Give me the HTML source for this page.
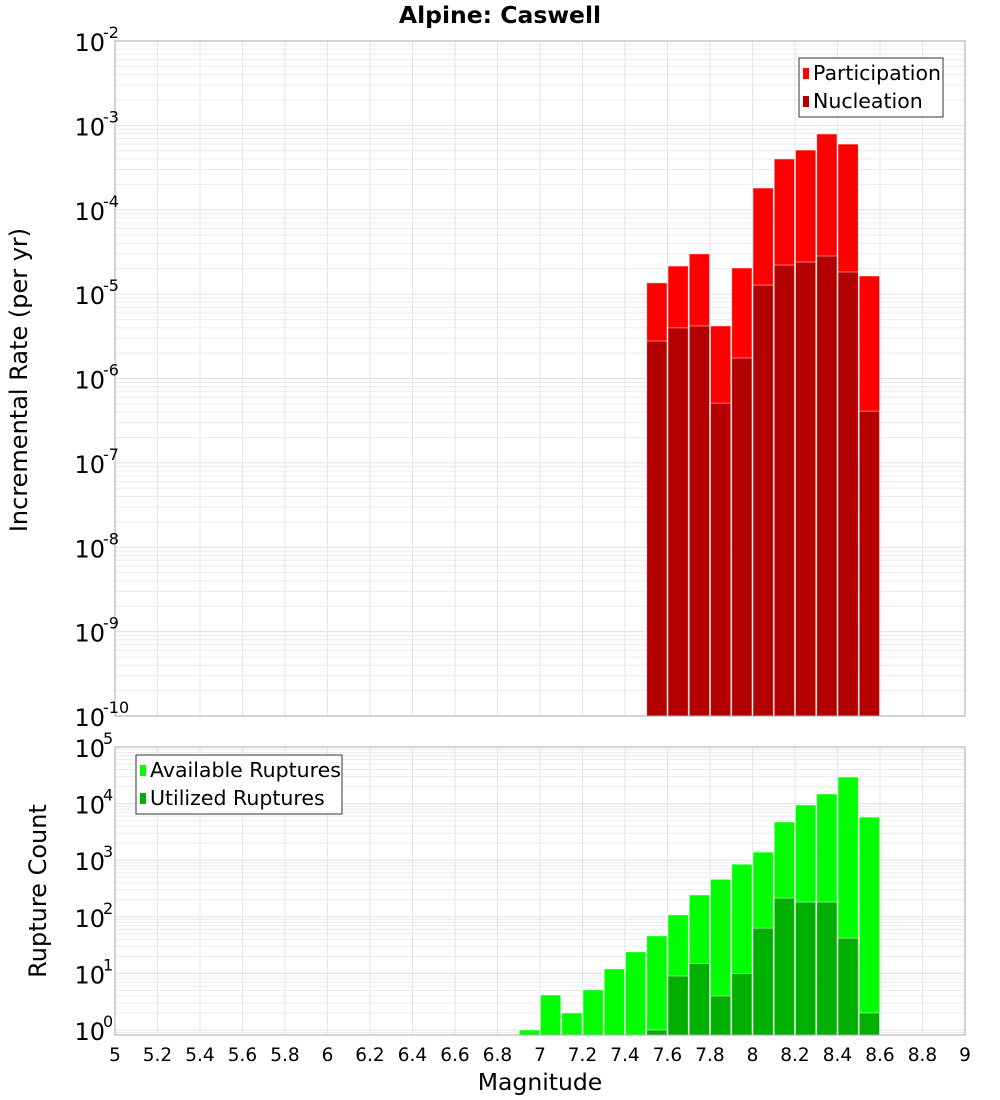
<!DOCTYPE html>
<html><head><meta charset="utf-8">
<style>
body{margin:0;background:#fff;}
svg{display:block;font-family:"DejaVu Sans","Liberation Sans",sans-serif;}
</style></head>
<body>
<svg id="chart" width="1000" height="1100" viewBox="0 0 1000 1100" xmlns="http://www.w3.org/2000/svg">
<text x="500" y="23" text-anchor="middle" font-size="23.5" font-weight="bold">Alpine: Caswell</text>
<g id="top"></g>
<g id="bot"></g>
<text x="540" y="1090" text-anchor="middle" font-size="23.5">Magnitude</text>
<text transform="translate(27,380) rotate(-90)" text-anchor="middle" font-size="24">Incremental Rate (per yr)</text>
<text transform="translate(46,891) rotate(-90)" text-anchor="middle" font-size="24">Rupture Count</text>
</svg>
<script>
const mags = [6.95,7.05,7.15,7.25,7.35,7.45,7.55,7.65,7.75,7.85,7.95,8.05,8.15,8.25,8.35,8.45,8.55];
const participation = [0,0,0,0,0,0,1.36e-5,2.15e-5,3.0e-5,4.19e-6,2.04e-5,1.81e-4,4.0e-4,5.1e-4,7.9e-4,6.0e-4,1.64e-5];
const nucleation = [0,0,0,0,0,0,2.78e-6,3.98e-6,4.19e-6,5.1e-7,1.75e-6,1.28e-5,2.21e-5,2.4e-5,2.83e-5,1.83e-5,4.1e-7];
const available = [1,4.15,2.0,5.1,12,24,46,108,243,460,850,1390,4730,9440,14800,29500,5760];
const utilized = [0,0,0,0,0,0,1.0,9,15,4,10,63,214,182,182,42,2];
const xTicks = ["5","5.2","5.4","5.6","5.8","6","6.2","6.4","6.6","6.8","7","7.2","7.4","7.6","7.8","8","8.2","8.4","8.6","8.8","9"];
const topExps = [-2,-3,-4,-5,-6,-7,-8,-9,-10];
const botExps = [5,4,3,2,1,0];

const NS="http://www.w3.org/2000/svg";
const X0=115,X1=965;
const xs=m=>X0+(m-5)/4*(X1-X0);
function mk(tag,attrs,parent){const e=document.createElementNS(NS,tag);for(const k in attrs)e.setAttribute(k,attrs[k]);parent.appendChild(e);return e;}

function panel(g,top,bottom,lmin,lmax,exps,s1,s2,d1,d2,c1,c2){
  const ys=v=>bottom-(Math.log10(v)-lmin)/(lmax-lmin)*(bottom-top);
  mk('rect',{x:X0,y:top,width:X1-X0,height:bottom-top,fill:'#fff'},g);
  for(let d=Math.floor(lmin);d<=lmax;d++){
    for(let k=1;k<10;k++){
      const v=Math.log10(k)+d; if(v<lmin||v>lmax)continue;
      const y=ys(Math.pow(10,v));
      const l=mk('line',{x1:X0,x2:X1,y1:y,y2:y,stroke:k==1?'#e0e0e0':'#ececec','stroke-width':1},g);
      
      
    }
  }
  xTicks.forEach(t=>{const x=xs(parseFloat(t));
    const l=mk('line',{x1:x,x2:x,y1:top,y2:bottom,stroke:'#e6e6e6','stroke-width':1},g);
    
    });
  const bw=(X1-X0)/40;
  mags.forEach((m,i)=>{
    const x=xs(m)-bw/2;
    if(s1[i]>0){const y=ys(s1[i]);const r=mk('rect',{x:x+0.5,y:y,width:bw-1,height:bottom-y,fill:c1,stroke:'#fff','stroke-opacity':0.6,'stroke-width':0.8},g);
      
      }
    if(s2[i]>0){const y=ys(s2[i]);const r=mk('rect',{x:x+0.5,y:y,width:bw-1,height:bottom-y,fill:c2,stroke:'#fff','stroke-opacity':0.6,'stroke-width':0.8},g);
      
      }
  });
  mk('rect',{x:X0,y:top,width:X1-X0,height:bottom-top,fill:'none',stroke:'#aaa','stroke-width':1},g);
  exps.forEach(e=>{const y=ys(Math.pow(10,e));
    const t=mk('text',{x:105,y:y+10,'text-anchor':'end','font-size':24},g);
    
    
    t.textContent='10';
    const s=mk('text',{x:103,y:y-3,'font-size':16},g);
    
    
    s.textContent=String(e);});
  return ys;
}
const gt=document.getElementById('top'),gb=document.getElementById('bot');
panel(gt,41,716,-10,-2,topExps,participation,nucleation,'participation','nucleation','#ff0000','#b30000');
panel(gb,747,1035,-0.088,5,botExps,available,utilized,'available','utilized','#00ff00','#00b000');
xTicks.forEach(t=>{const el=mk('text',{x:xs(parseFloat(t)),y:1061,'text-anchor':'middle','font-size':18.5},gb);
  
  
  el.textContent=t;});
function legend(g,x,y,w,items){
  const lg=mk('g',{},g);
  
  
  mk('rect',{x:x,y:y,width:w,height:59,fill:'#fff',stroke:'#333','stroke-width':1},lg);
  items.forEach((it,i)=>{
    const r=mk('rect',{x:x+4,y:y+10+i*28,width:6,height:11,fill:it[1]},lg);
    
    
    const t=mk('text',{x:x+14,y:y+22+i*28,'font-size':20.5},lg);
    
    
    t.textContent=it[0];});
}
legend(gt,799,58,144,[['Participation','#ff0000'],['Nucleation','#b30000']]);
legend(gb,136,755,206,[['Available Ruptures','#00ff00'],['Utilized Ruptures','#00b000']]);
</script>
</body></html>
